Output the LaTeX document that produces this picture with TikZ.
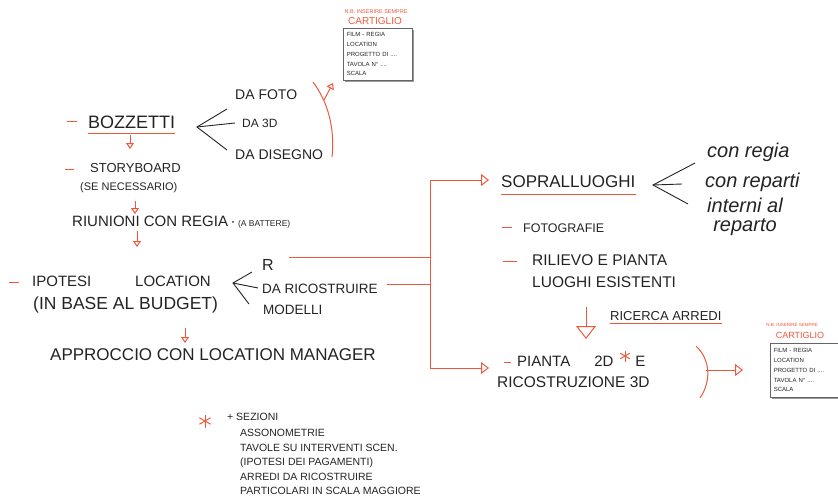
\documentclass[tikz,border=0pt]{standalone}
\usepackage{fontspec}
\setmainfont{Liberation Sans}
\usetikzlibrary{arrows.meta,shadows}
\definecolor{sketchred}{RGB}{238,88,58}
\definecolor{ink}{RGB}{35,35,35}
\newcommand\sz[1]{\fontsize{#1}{#1}\selectfont}
\tikzset{
  hand/.style={inner sep=0pt, anchor=west, text=ink},
  redline/.style={draw=sketchred, line width=1pt},
  inkline/.style={draw=ink, line width=0.9pt},
  redarrow/.style={redline, -{Triangle[open,length=6pt,width=8pt]}},
  bigarrow/.style={redline, -{Triangle[open,length=8pt,width=12pt]}},
  cartbox/.style={draw=ink!70, fill=white, line width=0.5pt, anchor=north west,
    inner xsep=3.5pt, inner ysep=3pt, text width=62pt, align=left, text=ink,
    font=\fontsize{6}{9.7}\selectfont,
    drop shadow={shadow xshift=1.5pt, shadow yshift=-1.5pt, fill=black!40, opacity=1}},
  cartnote/.style={inner sep=0pt, text=sketchred},
}
\begin{document}
\begin{tikzpicture}[x=1pt,y=-1pt]
  \useasboundingbox (0,0) rectangle (838,501);

  \node[cartnote, font=\sz{5.5}] (nb1) at (376,12) {N.B. INSERIRE SEMPRE};
  \node[cartnote, font=\sz{10}] (cart1) at (375,21) {CARTIGLIO};
  \node[cartbox, minimum height=52pt] (box1) at (343,28) {FILM - REGIA\\LOCATION\\PROGETTO DI ....\\TAVOLA N° ....\\SCALA};

  \node[cartnote, font=\sz{4.5}] (nb2) at (792,325) {N.B. INSERIRE SEMPRE};
  \node[cartnote, font=\sz{9}] (cart2) at (800,335) {CARTIGLIO};
  \node[cartbox, minimum height=54pt, text width=61pt] (box2) at (770,343) {FILM - REGIA\\LOCATION\\PROGETTO DI ....\\TAVOLA N° ....\\SCALA};

  \node[hand, font=\sz{18}] (bozzetti) at (88,122) {BOZZETTI};
  \node[hand, font=\sz{14}] (dafoto) at (235,95) {DA FOTO};
  \node[hand, font=\sz{12}] (da3d) at (242,123) {DA 3D};
  \node[hand, font=\sz{14}] (dadisegno) at (235,155) {DA DISEGNO};
  \node[hand, font=\sz{13}] (storyboard) at (90,168) {STORYBOARD};
  \node[hand, font=\sz{11}] (senecessario) at (80,188) {(SE NECESSARIO)};
  \node[hand, font=\sz{15}] (riunioni) at (72,222) {RIUNIONI CON REGIA\,·\,{\sz{8.5}(A BATTERE)}};
  \node[hand, font=\sz{15}] (ipotesi) at (32,281) {IPOTESI};
  \node[hand, font=\sz{15}] (location) at (135,281) {LOCATION};
  \node[hand, font=\sz{17.5}] (budget) at (33,305) {(IN BASE AL BUDGET)};
  \node[hand, font=\sz{16}] (rr) at (262,265) {R};
  \node[hand, font=\sz{13.5}] (daricostruire) at (262,289) {DA RICOSTRUIRE};
  \node[hand, font=\sz{13.5}] (modelli) at (263,310) {MODELLI};
  \node[hand, font=\sz{17}] (approccio) at (50,355) {APPROCCIO CON LOCATION MANAGER};

  \node[hand, font=\sz{17}] (sopralluoghi) at (501,182) {SOPRALLUOGHI};
  \node[hand, font=\itshape\sz{20}] (conregia) at (707,152) {con regia};
  \node[hand, font=\itshape\sz{20}] (conreparti) at (705,182) {con reparti};
  \node[hand, font=\itshape\fontsize{20}{19}\selectfont, align=center] (interni) at (707,217) {interni al\\reparto};
  \node[hand, font=\sz{12.5}] (fotografie) at (523,228) {FOTOGRAFIE};
  \node[hand, font=\fontsize{15.5}{22}\selectfont, align=left] (rilievo) at (532,271) {RILIEVO E PIANTA\\LUOGHI ESISTENTI};
  \node[hand, font=\sz{13}] (ricerca) at (610,316) {RICERCA ARREDI};
  \node[hand, font=\sz{15}] (pianta) at (517,361) {PIANTA\hspace{24pt}2D\hspace{22pt}E};
  \node[hand, font=\sz{15.5}] (ricostruzione) at (497,382) {RICOSTRUZIONE 3D};

  \node[hand, font=\sz{10.5}] (sezioni) at (227,417) {+ SEZIONI};
  \node[hand, font=\fontsize{10.5}{14.5}\selectfont, align=left] (elenco) at (240,462) {ASSONOMETRIE\\TAVOLE SU INTERVENTI SCEN.\\(IPOTESI DEI PAGAMENTI)\\ARREDI DA RICOSTRUIRE\\PARTICOLARI IN SCALA MAGGIORE};

  \coordinate (star1) at (205,421);
  \coordinate (star2) at (625,356);
  \foreach \a in {90,30,150} {
    \draw[redline] (star1) ++(\a:6.5) -- ++(\a+180:13);
    \draw[redline] (star2) ++(\a:5.5) -- ++(\a+180:11);
  }

  \draw[redline] (67,121) -- (77,121);
  \draw[redline] (65,169) -- (74,169);
  \draw[redline] (9,282) -- (19,282);
  \draw[redline] (502,227) -- (512,227);
  \draw[redline] (503,261) -- (517,261);
  \draw[redline] (504,362) -- (511,362);

  \draw[redline] ([yshift=-5pt]bozzetti.south west) -- ([yshift=-5pt]bozzetti.south east);
  \draw[redline] ([yshift=-6pt]sopralluoghi.south west) -- ([yshift=-6pt]sopralluoghi.south east);
  \draw[redline] ([yshift=-3pt]ricerca.south west) -- ([yshift=-3pt]ricerca.south east);

  \coordinate (fkb) at (197,127);
  \coordinate (fkb1) at (227,109);
  \coordinate (fkb2) at (235,123);
  \coordinate (fkb3) at (227,150);
  \draw[inkline] (fkb1) -- (fkb) -- (fkb3);
  \draw[inkline] (fkb) -- (fkb2);

  \coordinate (fkl) at (233,283);
  \coordinate (fkl1) at (252,272);
  \coordinate (fkl2) at (258,288);
  \coordinate (fkl3) at (249,304);
  \draw[inkline] (fkl1) -- (fkl) -- (fkl3);
  \draw[inkline] (fkl) -- (fkl2);

  \coordinate (fks) at (653,185);
  \coordinate (fks1) at (695,163);
  \coordinate (fks2) at (682,184);
  \coordinate (fks3) at (688,204);
  \draw[inkline] (fks1) -- (fks) -- (fks3);
  \draw[inkline] (fks) -- (fks2);

  \coordinate (ar1) at (130,135);
  \coordinate (ar1e) at (130,149);
  \coordinate (ar2) at (135,201);
  \coordinate (ar2e) at (135,214);
  \coordinate (ar3) at (137,231);
  \coordinate (ar3e) at (137,247);
  \coordinate (ar4) at (185,328);
  \coordinate (ar4e) at (185,343);
  \coordinate (ar5) at (586,307);
  \coordinate (ar5e) at (586,339);
  \draw[redarrow] (ar1) -- (ar1e);
  \draw[redarrow] (ar2) -- (ar2e);
  \draw[redarrow] (ar3) -- (ar3e);
  \draw[redarrow] (ar4) -- (ar4e);
  \draw[redline, -{Triangle[open,length=13pt,width=20pt]}] (ar5) -- (ar5e);

  \coordinate (vtop) at (430,180);
  \coordinate (vbot) at (430,368);
  \coordinate (rl1) at (289,257);
  \coordinate (rl2) at (387,284);
  \draw[redline] (vtop) -- (vbot);
  \draw[redline] (rl1) -- (rl1 -| vtop);
  \draw[redline] (rl2) -- (rl2 -| vtop);
  \draw[bigarrow, shorten >=12pt] (vtop) -- (vtop -| sopralluoghi.west);
  \draw[bigarrow, shorten >=8pt] (vbot) -- (vbot -| ricostruzione.west);

  \coordinate (cv1) at (313,82);
  \coordinate (cv2) at (324,100);
  \coordinate (cv3) at (332,157);
  \coordinate (cvtip) at (333,83);
  \draw[redline] (cv1) .. controls (328,102) and (335,128) .. (cv3);
  \draw[redarrow] (cv2) -- (cvtip);

  \coordinate (br1) at (696,346);
  \coordinate (br2) at (706,370);
  \coordinate (br3) at (700,398);
  \draw[redline] (br1) .. controls (711,360) and (711,382) .. (br3);
  \draw[bigarrow, shorten >=27pt] (br2) -- (box2.west |- br2);
\end{tikzpicture}
\end{document}
